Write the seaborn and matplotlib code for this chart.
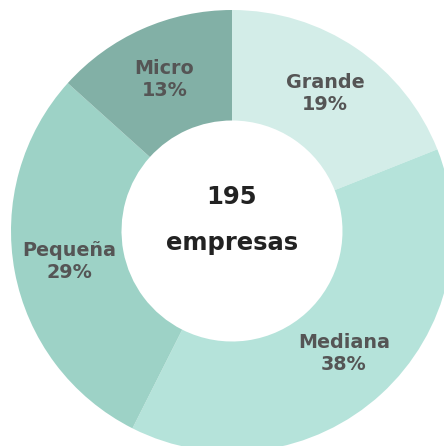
import matplotlib
matplotlib.use("Agg")
import matplotlib.pyplot as plt
import seaborn as sns

# Data: company sizes (195 companies in total)
categories = ["Grande", "Mediana", "Pequeña", "Micro"]
counts = [37, 75, 57, 26]
percent_labels = ["19%", "38%", "29%", "13%"]
total_label = "195"
total_text = "empresas"

colors = ["#d3ede8", "#b5e3da", "#9dd2c6", "#82b0a6"]

sns.set_theme(style="white")
plt.rcParams["font.family"] = ["DejaVu Sans"]

fig = plt.figure(figsize=(4.44, 4.46), dpi=100)
ax = fig.add_axes([0, 0, 1, 1])

labels = [f"{c}\n{p}" for c, p in zip(categories, percent_labels)]
wedges, texts = ax.pie(
    counts,
    labels=labels,
    colors=colors,
    startangle=90,
    counterclock=False,
    radius=1.0,
    labeldistance=0.75,
    wedgeprops=dict(width=0.5, linewidth=0),
    textprops=dict(color="#555555", fontsize=13.8, fontweight="bold",
                   ha="center", va="center", linespacing=1.2),
)

ax.text(0, 0.155, total_label, ha="center", va="center",
        fontsize=17.5, fontweight="bold", color="#222222")
ax.text(0, -0.055, total_text, ha="center", va="center",
        fontsize=17.5, fontweight="bold", color="#222222")

r_px = 221
ax.set_aspect("auto")
ax.set_xlim(-232 / r_px, (444 - 232) / r_px)
ax.set_ylim(-(446 - 231) / r_px, 231 / r_px)
ax.axis("off")

fig.savefig("out.png", dpi=100)
